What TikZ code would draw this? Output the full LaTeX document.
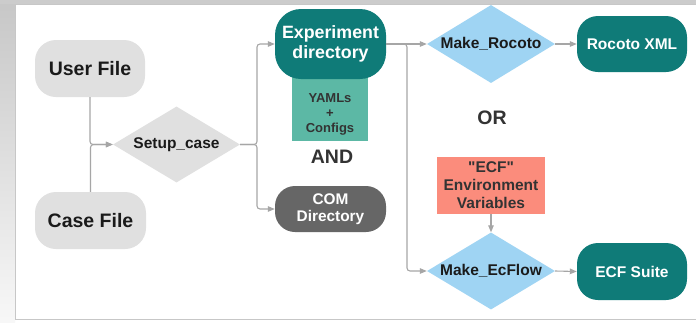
\documentclass[tikz,border=0pt]{standalone}
\usepackage{fontspec}
\setmainfont{Liberation Sans}
\usetikzlibrary{shapes.geometric,arrows.meta}
\definecolor{teal1}{HTML}{0F7B78}
\definecolor{gbox}{HTML}{E0E0E0}
\definecolor{combox}{HTML}{666666}
\definecolor{yamlbox}{HTML}{5CB8A5}
\definecolor{salmon}{HTML}{FB8C7C}
\definecolor{lblue}{HTML}{9FD4F3}
\definecolor{linec}{HTML}{A6A6A6}
\definecolor{txtd}{HTML}{1A1A1A}
\definecolor{txtg}{HTML}{333333}
\begin{document}
\begin{tikzpicture}[x=1pt,y=-1pt,
  every node/.style={font=\bfseries},
  term/.style={rounded corners=21pt, inner sep=0pt, align=center},
  grayterm/.style={term, fill=gbox, text=txtd, font=\bfseries\fontsize{19.5}{22}\selectfont},
  tealterm/.style={term, fill=teal1, text=white, font=\bfseries\fontsize{15.5}{18}\selectfont},
  decide/.style={diamond, fill=lblue, text=txtd, inner sep=0pt, aspect=1.65, font=\bfseries\fontsize{15.5}{18}\selectfont},
  conn/.style={draw=linec, line width=1.1pt},
  arr/.style={conn, -{Triangle[length=7pt,width=5.5pt]}},
  bigword/.style={text=txtg, font=\bfseries\fontsize{19.5}{22}\selectfont}
]
% background and panel
\useasboundingbox (0,0) rectangle (696,322);
\fill[white] (0,0) rectangle (696,322);
\shade[top color=black!22, bottom color=black!3] (0,0) rectangle (15,322);
\fill[black!20] (0,0) rectangle (696,4);
\draw[black!22, line width=1.5pt] (696,4.5) -- (15.5,4.5) -- (15.5,319.5) -- (696,319.5);

% nodes
\node[grayterm, minimum width=110pt, minimum height=57pt] (user) at (90,68.5) {User File};
\node[grayterm, minimum width=111pt, minimum height=57pt] (case) at (90.5,220.5) {Case File};
\node[decide, fill=gbox, minimum width=127pt, minimum height=76pt] (setup) at (176.5,144.5) {Setup\_case};

\node[fill=yamlbox, text=txtg, minimum width=76pt, minimum height=65pt, inner sep=0pt, align=center,
      font=\bfseries\fontsize{13}{15}\selectfont, anchor=north] (yaml) at (330,76) {\rule{0pt}{6pt}\\YAMLs\\+\\Configs};
\node[tealterm, rounded corners=26pt, minimum width=111pt, minimum height=70pt,
      font=\bfseries\fontsize{17.8}{20}\selectfont] (exp) at (330.5,44) {Experiment\\directory};
\node[bigword] (and) at (332,157) {AND};
\node[term, rounded corners=20pt, fill=combox, text=white, minimum width=111pt, minimum height=46pt,
      font=\bfseries\fontsize{15.4}{17}\selectfont] (com) at (330.5,209) {COM\\Directory};

\node[decide, minimum width=128pt, minimum height=78pt] (mr) at (491,44) {Make\_Rocoto};
\node[tealterm, minimum width=110pt, minimum height=56pt] (xml) at (632,44) {Rocoto XML};
\node[bigword] (or) at (492,118) {OR};
\node[fill=salmon, text=txtg, minimum width=108pt, minimum height=57pt, inner sep=0pt, align=center,
      font=\bfseries\fontsize{15.5}{18}\selectfont] (ecf) at (491,185.5) {\textquotedbl ECF\textquotedbl\\Environment\\Variables};
\node[decide, minimum width=128pt, minimum height=77pt] (me) at (491,271) {Make\_EcFlow};
\node[tealterm, minimum width=110pt, minimum height=57pt] (suite) at (632,271.5) {ECF Suite};

% connectors
\coordinate (join1) at (257,144.5);
\coordinate (split) at (407,44);
\draw[arr, rounded corners=3pt] (user.south) |- (setup.west);
\draw[arr, rounded corners=3pt] (case.north) |- (setup.west);
\draw[arr, rounded corners=3pt] (setup.east) -- (join1) |- (exp.west);
\draw[arr, rounded corners=3pt] (setup.east) -- (join1) |- (com.west);
\draw[arr] (exp.east) -- (mr.west);
\draw[arr, rounded corners=3pt] (exp.east) -- (split) |- (me.west);
\draw[arr] (mr.east) -- (xml.west);
\draw[arr] (ecf.south) -- (me.north);
\draw[arr] (me.east) -- (suite.west);
\end{tikzpicture}
\end{document}
